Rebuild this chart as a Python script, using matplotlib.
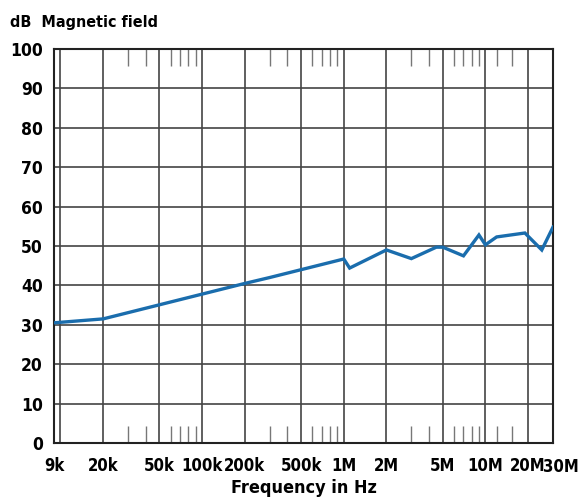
import matplotlib
matplotlib.use("Agg")
import matplotlib.pyplot as plt
from matplotlib.ticker import FixedLocator, NullFormatter

plt.rcParams['font.family'] = ['Liberation Sans Narrow', 'DejaVu Sans']
plt.rcParams['font.stretch'] = 'condensed'

freq = [9e3, 20e3, 200e3, 300e3, 1.0e6, 1.1e6, 2.0e6, 3.0e6, 4.5e6, 5.0e6, 7.0e6, 9.0e6, 10e6, 12e6, 19e6, 25e6, 30e6]
level = [30.5, 31.5, 40.5, 42.0, 46.7, 44.4, 49.0, 46.8, 49.7, 49.7, 47.5, 52.8, 50.3, 52.3, 53.3, 49.0, 54.8]

tick_vals = [9e3, 20e3, 50e3, 100e3, 200e3, 500e3, 1e6, 2e6, 5e6, 10e6, 20e6, 30e6]
tick_labels = ['9k', '20k', '50k', '100k', '200k', '500k', '1M', '2M', '5M', '10M', '20M', '30M']
grid_x = [10e3, 20e3, 50e3, 100e3, 200e3, 500e3, 1e6, 2e6, 5e6, 10e6, 20e6]
minor_x = [30e3, 40e3, 60e3, 70e3, 80e3, 90e3,
           300e3, 400e3, 600e3, 700e3, 800e3, 900e3,
           3e6, 4e6, 6e6, 7e6, 8e6, 9e6, 12e6, 15.5e6]
y_ticks = list(range(0, 101, 10))

fig = plt.figure(figsize=(5.84, 5.0), dpi=100)
ax = fig.add_axes([54/584, 57/500, 499/584, 394/500])
ax.set_xscale('log')
ax.set_xlim(9e3, 30e6)
ax.set_ylim(0, 100)

for gx in grid_x:
    ax.axvline(gx, color='#444444', lw=1.2, zorder=1)
for gy in y_ticks[1:-1]:
    ax.axhline(gy, color='#444444', lw=1.2, zorder=1)

ax.plot(freq, level, color='#1a6dad', lw=2.4, zorder=3, solid_joinstyle='miter')

ax.xaxis.set_major_locator(FixedLocator(tick_vals[:-1]))
ax.set_xticklabels(tick_labels[:-1])
ax.xaxis.set_minor_locator(FixedLocator(minor_x))
ax.xaxis.set_minor_formatter(NullFormatter())
ax.tick_params(axis='x', which='major', length=0, pad=10, labelsize=12)
ax.tick_params(axis='x', which='minor', direction='in', length=12, width=1.0,
               color='#777777', top=True, bottom=True)
ax.set_yticks(y_ticks)
ax.tick_params(axis='y', which='major', length=0, pad=8, labelsize=12.5)
for lab in ax.get_xticklabels() + ax.get_yticklabels():
    lab.set_fontweight('bold')

# last x label sits just right of the axis end
ax.annotate(tick_labels[-1], xy=(tick_vals[-1], 0), xycoords=('data', 'axes fraction'),
            xytext=(6, -17), textcoords='offset points', ha='center', va='center',
            fontsize=12, fontweight='bold')

for s in ax.spines.values():
    s.set_linewidth(1.5)
    s.set_color('#222222')

ax.set_xlabel('Frequency in Hz', fontsize=13, fontweight='bold', labelpad=3)
fig.text(10/584, 1 - 22/500, 'dB  Magnetic field', fontsize=11.5, fontweight='bold', va='center', ha='left')

fig.savefig('out.png', dpi=100)
